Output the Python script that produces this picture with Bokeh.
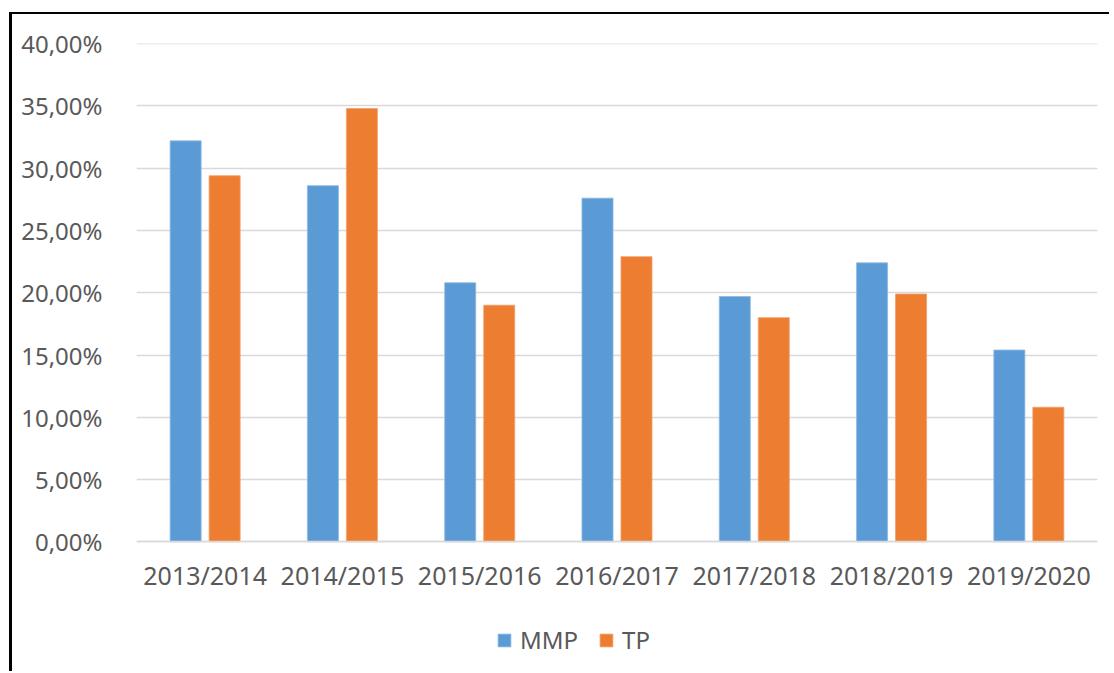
from bokeh.plotting import figure
from bokeh.models import FactorRange, Range1d, FixedTicker, Legend, LegendItem
from bokeh.transform import dodge
from bokeh.embed import file_html
from bokeh.resources import INLINE
from bokeh.models import ColumnDataSource

categories = ["2013/2014", "2014/2015", "2015/2016", "2016/2017", "2017/2018", "2018/2019", "2019/2020"]
mmp = [32.2, 28.6, 20.8, 27.6, 19.7, 22.4, 15.4]
tp = [29.4, 34.8, 19.0, 22.9, 18.0, 19.9, 10.8]
y_ticks = [0, 5, 10, 15, 20, 25, 30, 35, 40]
y_tick_labels = ["0,00%", "5,00%", "10,00%", "15,00%", "20,00%", "25,00%", "30,00%", "35,00%", "40,00%"]

FONT = "Noto Sans"
TXT = "#595959"

src = ColumnDataSource(dict(cat=categories, mmp=mmp, tp=tp))

p = figure(x_range=FactorRange(*categories, range_padding=0), y_range=Range1d(-10.02, 40.02),
           width=1100, height=659, output_backend="svg", toolbar_location=None,
           min_border_left=124, min_border_right=15, min_border_top=29, min_border_bottom=7)
p.margin = (12, 0, 0, 9)
p.styles = {"border-left": "3px solid black", "border-top": "2px solid black"}
p.outline_line_color = None
p.background_fill_color = "white"

r1 = p.vbar(x=dodge("cat", -0.142, range=p.x_range), top="mmp", width=0.226, source=src,
            fill_color="#5B9BD5", line_color="#8DB9E3", line_width=0.8)
r2 = p.vbar(x=dodge("cat", 0.142, range=p.x_range), top="tp", width=0.226, source=src,
            fill_color="#ED7D31", line_color="#F2A06A", line_width=0.8)

p.xgrid.grid_line_color = None
p.ygrid.grid_line_color = "#D9D9D9"
p.ygrid.grid_line_width = 1.3

p.yaxis.ticker = FixedTicker(ticks=y_ticks)
p.yaxis.major_label_overrides = {t: l for t, l in zip(y_ticks, y_tick_labels)}
for ax in (p.xaxis[0], p.yaxis[0]):
    ax.major_tick_line_color = None
    ax.minor_tick_line_color = None
    ax.major_label_text_font = FONT
    ax.major_label_text_color = TXT
p.yaxis.major_label_text_font_size = "24px"
p.xaxis.major_label_text_font_size = "25px"
p.yaxis.axis_line_color = None
p.yaxis.major_label_standoff = 28
p.xaxis.fixed_location = 0
p.xaxis.axis_line_color = "#D9D9D9"
p.xaxis.axis_line_width = 1.3
p.xaxis.major_label_standoff = 10

legend = Legend(items=[LegendItem(label="MMP", renderers=[r1]), LegendItem(label="TP", renderers=[r2])],
                orientation="horizontal", location=(360, 10), margin=0, padding=0,
                glyph_width=16, glyph_height=16, label_standoff=8, spacing=20,
                label_text_font=FONT, label_text_font_size="24px", label_text_color=TXT,
                border_line_color=None, background_fill_alpha=0)
p.add_layout(legend, "center")

open("out.html", "w").write(file_html(p, INLINE))
